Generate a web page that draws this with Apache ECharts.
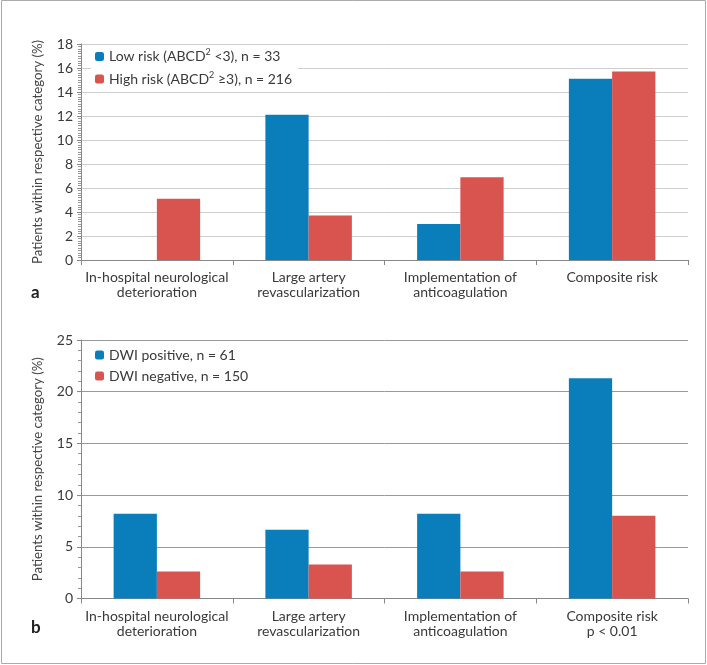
<!DOCTYPE html>
<html><head><meta charset="utf-8">
<script src="https://cdn.jsdelivr.net/npm/echarts@6/dist/echarts.min.js"></script>
<style>html,body{margin:0;padding:0;background:#fff}#c{width:707px;height:665px}</style>
</head><body><div id="c"></div>
<script>
const categoriesA = ['In-hospital neurological\ndeterioration', 'Large artery\nrevascularization', 'Implementation of\nanticoagulation', 'Composite risk'];
const categoriesB = ['In-hospital neurological\ndeterioration', 'Large artery\nrevascularization', 'Implementation of\nanticoagulation', 'Composite risk\np < 0.01'];
const lowRisk = [0, 12.1, 3.0, 15.1];
const highRisk = [5.1, 3.7, 6.9, 15.7];
const dwiPos = [8.2, 6.65, 8.2, 21.3];
const dwiNeg = [2.6, 3.3, 2.6, 8.0];
const yTicksA = {min: 0, max: 18, interval: 2};
const yTicksB = {min: 0, max: 25, interval: 5};
const seriesNames = ['Low risk (ABCD{s|2} <3), n = 33', 'High risk (ABCD{s|2} ≥3), n = 216', 'DWI positive, n = 61', 'DWI negative, n = 150'];

const BLUE = '#0a7dbb', RED = '#d9534f';
const FONT = 'Lato, "Open Sans", sans-serif';
const txt = {fontFamily: FONT, fontSize: 14, color: '#3a3a3a'};

function xAxis(idx, cats) {
  return {
    type: 'category', gridIndex: idx, data: cats,
    axisLine: {lineStyle: {color: '#888'}},
    axisTick: {show: true, length: 5, lineStyle: {color: '#888'}},
    axisLabel: Object.assign({margin: 10, lineHeight: 15, interval: 0}, txt)
  };
}
function yAxis(idx, t, gridColor, minorSplit) {
  return {
    type: 'value', gridIndex: idx, min: t.min, max: t.max, interval: t.interval,
    name: 'Patients within respective category (%)', nameLocation: 'middle', nameGap: 37,
    nameTextStyle: {fontFamily: FONT, fontSize: 13.2, color: '#444'},
    axisLine: {show: true, lineStyle: {color: '#888'}},
    axisTick: {show: true, length: 4, lineStyle: {color: '#888'}},
    minorTick: {show: true, splitNumber: minorSplit, length: 3, lineStyle: {color: '#999'}},
    splitLine: {lineStyle: {color: gridColor}},
    axisLabel: Object.assign({margin: 8}, txt)
  };
}
const richS = {s: {fontSize: 9, verticalAlign: 'top', padding: [0,0,8,0], fontFamily: FONT, color: '#3a3a3a'}};

const chart = echarts.init(document.getElementById('c'), null, {renderer: 'canvas'});
chart.setOption({
  animation: false,
  backgroundColor: '#fff',
  grid: [
    {left: 81, right: 19, top: 44, height: 216},
    {left: 81, right: 19, top: 340, height: 258.5}
  ],
  xAxis: [xAxis(0, categoriesA), xAxis(1, categoriesB)],
  yAxis: [yAxis(0, yTicksA, '#cfcfcf', 10), yAxis(1, yTicksB, '#999', 5)],
  legend: [
    {data: [seriesNames[0], seriesNames[1]], orient: 'vertical', left: 91, top: 46, itemWidth: 9, itemHeight: 9, itemGap: 7,
     backgroundColor: '#fff', padding: [2, 6, 2, 4],
     textStyle: {fontFamily: FONT, fontSize: 14, color: '#3a3a3a', rich: richS}},
    {data: [seriesNames[2], seriesNames[3]], orient: 'vertical', left: 91, top: 346, itemWidth: 9, itemHeight: 9, itemGap: 7,
     backgroundColor: '#fff', padding: [2, 6, 2, 4],
     textStyle: {fontFamily: FONT, fontSize: 14, color: '#3a3a3a'}}
  ],
  series: [
    {name: seriesNames[0], type: 'bar', xAxisIndex: 0, yAxisIndex: 0, data: lowRisk, itemStyle: {color: BLUE}, barGap: '0%', barCategoryGap: '43%'},
    {name: seriesNames[1], type: 'bar', xAxisIndex: 0, yAxisIndex: 0, data: highRisk, itemStyle: {color: RED}, barGap: '0%', barCategoryGap: '43%'},
    {name: seriesNames[2], type: 'bar', xAxisIndex: 1, yAxisIndex: 1, data: dwiPos, itemStyle: {color: BLUE}, barGap: '0%', barCategoryGap: '43%'},
    {name: seriesNames[3], type: 'bar', xAxisIndex: 1, yAxisIndex: 1, data: dwiNeg, itemStyle: {color: RED}, barGap: '0%', barCategoryGap: '43%'}
  ],
  graphic: [
    {type: 'rect', shape: {x: 1.5, y: 0.5, width: 704, height: 663}, style: {fill: 'none', stroke: '#aaa', lineWidth: 1}, silent: true},
    {type: 'text', left: 31, top: 284, style: {text: 'a', fontFamily: FONT, fontSize: 17, fontWeight: 'bold', fill: '#222'}},
    {type: 'text', left: 31, top: 619, style: {text: 'b', fontFamily: FONT, fontSize: 17, fontWeight: 'bold', fill: '#222'}}
  ]
});
</script></body></html>
